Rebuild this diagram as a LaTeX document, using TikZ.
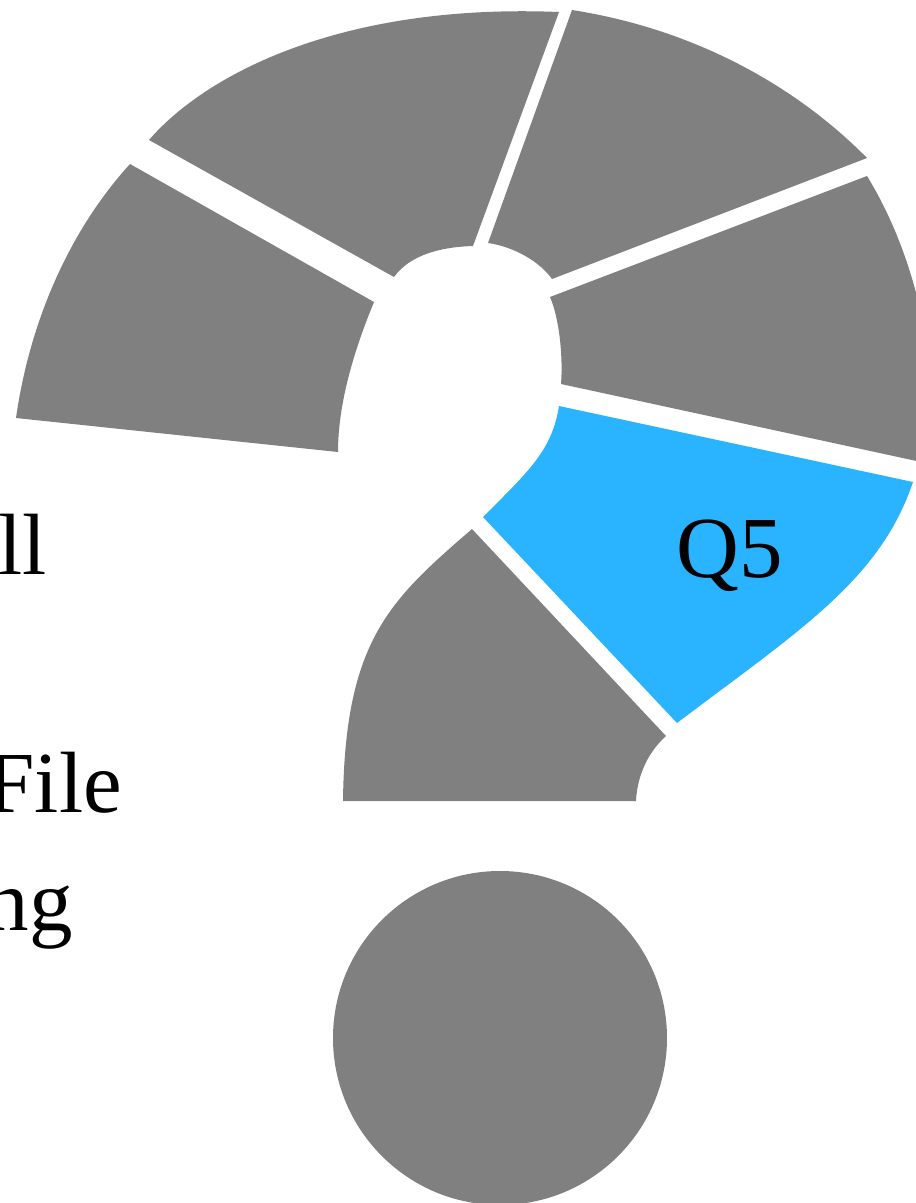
\documentclass[tikz,border=0pt]{standalone}
\usepackage{fontspec}
\setmainfont{Liberation Serif}
\definecolor{seggray}{RGB}{128,128,128}
\definecolor{segblue}{RGB}{42,179,255}
\tikzset{
  seg/.style={fill=seggray, draw=none},
  segsel/.style={fill=segblue, draw=none},
  bigtext/.style={inner sep=0pt, font=\fontsize{87}{104}\selectfont, text=black}
}
\begin{document}
\begin{tikzpicture}[x=1pt,y=-1pt]
\useasboundingbox (0,0) rectangle (916,1203);
\clip (0,0) rectangle (916,1203);
% segment 1 (left)
\fill[seg] (16,418) .. controls (30,320) and (70,230) .. (130,164)
  -- (374,302) .. controls (350,360) and (338,410) .. (338,452) -- cycle;
% segment 2 (top left)
\fill[seg] (149,140) .. controls (205,75) and (340,3) .. (559,12)
  -- (473,246) .. controls (440,247) and (410,255) .. (394,277) -- cycle;
% segment 3 (top right)
\fill[seg] (572,10) .. controls (700,30) and (800,90) .. (867,158)
  -- (552,279) .. controls (540,262) and (515,247) .. (488,243) -- cycle;
% segment 4 (right)
\fill[seg] (867,176) .. controls (900,230) and (925,300) .. (935,400)
  -- (935,465) -- (561,384) .. controls (563,360) and (560,320) .. (550,297) -- cycle;
% segment 5 (Q5, selected)
\fill[segsel] (559,406) -- (913,482) .. controls (880,580) and (800,630) .. (677,723)
  -- (483,517) .. controls (530,470) and (552,450) .. (559,406) -- cycle;
% segment 6 (bottom)
\fill[seg] (472,529) -- (666,736) .. controls (645,755) and (637,780) .. (636,801)
  -- (343,801) .. controls (345,640) and (390,600) .. (472,529) -- cycle;
% dot
\fill[seg] (500,1038) circle[radius=167];
% labels
\node[bigtext] (q5) at (730,556) {Q5};
\node[bigtext, anchor=base east] (t1) at (47,574) {ll};
\node[bigtext, anchor=base east] (t2) at (122,812) {File};
\node[bigtext, anchor=base east] (t3) at (73,930) {ng};
\end{tikzpicture}
\end{document}
